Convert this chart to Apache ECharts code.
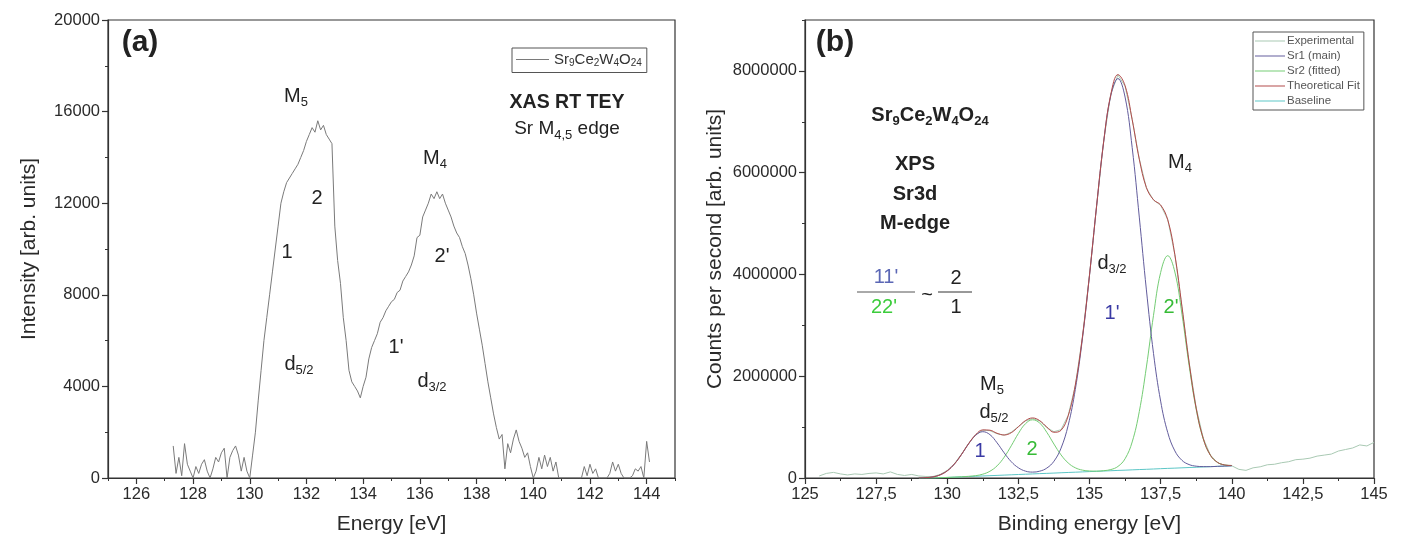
<!DOCTYPE html>
<html>
<head>
<meta charset="utf-8">
<script src="https://cdn.jsdelivr.net/npm/echarts@6/dist/echarts.min.js"></script>
<style>
html, body { margin: 0; padding: 0; background: #fff; }
#chart { width: 1407px; height: 542px; }
</style>
</head>
<body>
<div id="chart"></div>
<script>
// ---------- (a) XAS, Sr M4,5 edge ----------
const xasEnergy = [
  127.3, 127.4, 127.5, 127.6, 127.7, 127.8, 127.9, 128.0, 128.1, 128.2, 128.3, 128.4, 128.5, 128.6, 128.7, 128.8, 128.9,
  129.0, 129.1, 129.2, 129.3, 129.4, 129.5, 129.6, 129.7, 129.8, 129.9,
  130.0, 130.1, 130.2, 130.3, 130.4, 130.5, 130.6, 130.7, 130.8, 130.9,
  131.0, 131.1, 131.2, 131.3, 131.4, 131.5, 131.6, 131.7, 131.8, 131.9,
  132.0, 132.1, 132.2, 132.3, 132.4, 132.5, 132.6, 132.7, 132.8, 132.9,
  133.0, 133.1, 133.2, 133.3, 133.4, 133.5, 133.6, 133.7, 133.8, 133.9,
  134.0, 134.1, 134.2, 134.3, 134.4, 134.5, 134.6, 134.7, 134.8, 134.9,
  135.0, 135.1, 135.2, 135.3, 135.4, 135.5, 135.6, 135.7, 135.8, 135.9,
  136.0, 136.1, 136.2, 136.3, 136.4, 136.5, 136.6, 136.7, 136.8, 136.9,
  137.0, 137.1, 137.2, 137.3, 137.4, 137.5, 137.6, 137.7, 137.8, 137.9,
  138.0, 138.1, 138.2, 138.3, 138.4, 138.5, 138.6, 138.7, 138.8, 138.9,
  139.0, 139.1, 139.2, 139.3, 139.4, 139.5, 139.6, 139.7, 139.8, 139.9,
  140.0, 140.1, 140.2, 140.3, 140.4, 140.5, 140.6, 140.7, 140.8, 140.9,
  141.0, 141.1, 141.2, 141.3, 141.4, 141.5, 141.6, 141.7, 141.8, 141.9,
  142.0, 142.1, 142.2, 142.3, 142.4, 142.5, 142.6, 142.7, 142.8, 142.9,
  143.0, 143.1, 143.2, 143.3, 143.4, 143.5, 143.6, 143.7, 143.8, 143.9,
  144.0, 144.1
];
const xasIntensity = [
  1400, 200, 900, 100, 1500, 600, 300, 0, 500, 200, 600, 800, 300, 0, 400, 900, 700,
  1100, 1300, 0, 900, 1200, 1400, 1000, 300, 900, 300,
  0, 1000, 2000, 3400, 4700, 6000, 7000, 8000, 9000, 10000,
  11000, 12000, 12500, 12900, 13100, 13300, 13500, 13700, 14000, 14300,
  14700, 15000, 15300, 15100, 15600, 15200, 15400, 15000, 14800, 14600,
  11000, 9500, 8500, 7000, 6000, 4700, 4200, 4000, 3800, 3500,
  4000, 4400, 5200, 5700, 6000, 6300, 6800, 7000, 7300, 7500,
  7700, 7800, 8100, 8200, 8600, 8800, 9000, 9300, 9700, 10500,
  10600, 11400, 11700, 12000, 12400, 12200, 12500, 12200, 12400, 12000,
  11700, 11400, 11000, 10700, 10500, 10100, 9800, 9300, 8700, 8000,
  7200, 6500, 5800, 5000, 4200, 3500, 2800, 2200, 1700, 1900,
  400, 1500, 1100, 1700, 2100, 1600, 1300, 900, 1100, 500,
  0, 300, 900, 400, 1000, 500, 900, 300, 700, 0,
  0, 0, 0, 0, 0, 0, 0, 0, 500, 100,
  600, 200, 400, 0, 0, 0, 0, 200, 700, 300,
  600, 200, 0, 0, 0, 100, 400, 300, 500, 0,
  1600, 700
];
const xasName = 'Sr9Ce2W4O24';

// ---------- (b) XPS Sr3d with peak fit ----------
const expEnergy = [
  125.5, 125.75, 126.0, 126.25, 126.5, 126.75, 127.0, 127.25, 127.5, 127.75,
  128.0, 128.25, 128.5, 128.75, 129.0, 129.25, 129.5, 129.75, 130.0, 130.25,
  130.5, 130.75, 131.0, 131.25, 131.5, 131.75, 132.0, 132.25, 132.5, 132.75,
  133.0, 133.25, 133.5, 133.75, 134.0, 134.25, 134.5, 134.75, 135.0, 135.25,
  135.5, 135.75, 136.0, 136.25, 136.5, 136.75, 137.0, 137.25, 137.5, 137.75,
  138.0, 138.25, 138.5, 138.75, 139.0, 139.25, 139.5, 139.75, 140.0, 140.25,
  140.5, 140.75, 141.0, 141.25, 141.5, 141.75, 142.0, 142.25, 142.5, 142.75,
  143.0, 143.25, 143.5, 143.75, 144.0, 144.25, 144.5, 144.75, 145.0
];
const expCounts = [
  40000, 90000, 110000, 80000, 60000, 80000, 70000, 90000, 100000, 80000,
  120000, 70000, 50000, 70000, 40000, 30000, 30000, 70000, 150000, 280000,
  470000, 680000, 850000, 940000, 930000, 870000, 840000, 900000, 1010000, 1120000,
  1170000, 1120000, 990000, 910000, 950000, 1230000, 1810000, 2760000, 3990000, 5340000,
  6630000, 7550000, 7920000, 7700000, 7050000, 6270000, 5700000, 5460000, 5360000, 5080000,
  4390000, 3360000, 2280000, 1380000, 780000, 450000, 300000, 250000, 240000, 170000,
  150000, 200000, 220000, 260000, 270000, 300000, 320000, 360000, 370000, 390000,
  430000, 450000, 470000, 530000, 560000, 590000, 650000, 630000, 700000
];

const fitEnergy = [
  129.0, 129.25, 129.5, 129.75, 130.0, 130.25, 130.5, 130.75, 131.0, 131.25,
  131.5, 131.75, 132.0, 132.25, 132.5, 132.75, 133.0, 133.25, 133.5, 133.75,
  134.0, 134.25, 134.5, 134.75, 135.0, 135.25, 135.5, 135.75, 136.0, 136.25,
  136.5, 136.75, 137.0, 137.25, 137.5, 137.75, 138.0, 138.25, 138.5, 138.75,
  139.0, 139.25, 139.5, 139.75, 140.0
];
const sr1Counts = [
  2000, 7000, 21000, 62000, 141000, 274000, 461000, 670000, 840000, 910000,
  852000, 692000, 495000, 320000, 201000, 135000, 116000, 134000, 195000, 329000,
  587000, 1034000, 1736000, 2732000, 3980000, 5347000, 6613000, 7516000, 7849000, 7486000,
  6493000, 5127000, 3696000, 2448000, 1511000, 893000, 533000, 347000, 264000, 232000,
  224000, 223000, 229000, 234000, 240000
];
const sr2Counts = [
  0, 0, 0, 6000, 11000, 17000, 24000, 33000, 46000, 75000,
  133000, 238000, 408000, 633000, 875000, 1067000, 1144000, 1079000, 897000, 667000,
  454000, 296000, 201000, 155000, 138000, 135000, 144000, 166000, 227000, 378000,
  708000, 1305000, 2182000, 3197000, 4037000, 4369000, 4048000, 3220000, 2217000, 1350000,
  765000, 447000, 307000, 257000, 246000
];
const fitCounts = [
  2000, 7000, 21000, 62000, 141000, 274000, 462000, 674000, 852000, 945000,
  939000, 879000, 846000, 890000, 1007000, 1128000, 1180000, 1127000, 1001000, 899000,
  938000, 1221000, 1823000, 2767000, 3992000, 5351000, 6620000, 7539000, 7927000, 7710000,
  7041000, 6266000, 5707000, 5468000, 5365000, 5073000, 4387000, 3367000, 2275000, 1371000,
  772000, 447000, 307000, 257000, 246000
];
const baselineCounts = [
  0, 0, 0, 6000, 11000, 17000, 23000, 29000, 34000, 40000,
  46000, 51000, 57000, 63000, 69000, 74000, 80000, 86000, 91000, 97000,
  103000, 109000, 114000, 120000, 126000, 131000, 137000, 143000, 149000, 154000,
  160000, 166000, 171000, 177000, 183000, 189000, 194000, 200000, 206000, 211000,
  217000, 223000, 229000, 234000, 240000
];

const xasMajorTicks = [126, 128, 130, 132, 134, 136, 138, 140, 142, 144];
const xpsMajorTicks = [0, 2000000, 4000000, 6000000, 8000000];

const COLORS = {
  xas: '#7a7a7a',
  exp: '#a9c9b3',
  sr1: '#625c9c',
  sr2: '#74cc74',
  fit: '#b24a4a',
  base: '#5cc6c6',
  axis: '#333333',
  blue: '#3a3aa4',
  green: '#36bb36'
};
const FONT = '"Liberation Sans", Arial, sans-serif';

const pairs = (xs, ys) => xs.map((x, i) => [x, ys[i]]);

// subscripted text helpers for the chemical formula and edge labels
const formulaRich = '{n|Sr}{s|9}{n|Ce}{s|2}{n|W}{s|4}{n|O}{s|24}';

function subRich(size, weight) {
  return {
    n: { fontSize: size, fontFamily: FONT, fontWeight: weight || 'normal', fill: '#222', lineHeight: size + 6 },
    s: { fontSize: Math.round(size * 0.66), fontFamily: FONT, fontWeight: weight || 'normal', fill: '#222',
         lineHeight: Math.round(size * 0.62), verticalAlign: 'bottom' }
  };
}
function label(x, y, text, size, opt) {
  opt = opt || {};
  return {
    type: 'text', x: x, y: y, z: 50,
    style: {
      text: text,
      fontSize: size, fontFamily: FONT, fontWeight: opt.weight || 'normal',
      fill: opt.color || '#222',
      align: 'center', verticalAlign: 'middle',
      rich: opt.rich
    }
  };
}
function hline(x1, x2, y, color) {
  return { type: 'line', z: 50, shape: { x1: x1, y1: y, x2: x2, y2: y }, style: { stroke: color || '#444', lineWidth: 1 } };
}

const axisLineStyle = { show: true, lineStyle: { color: COLORS.axis, width: 1.2 } };
const tickLabel = { color: '#2a2a2a', fontSize: 16.5, fontFamily: FONT, margin: 8 };
const nameStyle = { color: '#2a2a2a', fontSize: 21, fontFamily: FONT };
const ANN = 20;

const chart = echarts.init(document.getElementById('chart'));

chart.setOption({
  animation: false,
  backgroundColor: '#ffffff',
  grid: [
    { left: 108, top: 20, width: 567, height: 458, show: true, borderColor: COLORS.axis, borderWidth: 1.2, backgroundColor: 'transparent' },
    { left: 805, top: 20, width: 569, height: 458, show: true, borderColor: COLORS.axis, borderWidth: 1.2, backgroundColor: 'transparent' }
  ],
  xAxis: [
    {
      gridIndex: 0, type: 'value', min: 125, max: 145, interval: 1,
      axisLine: axisLineStyle,
      axisTick: { show: true, length: 3, lineStyle: { color: COLORS.axis } },
      axisLabel: Object.assign({}, tickLabel, { formatter: v => (v % 2 === 0 ? String(v) : '') }),
      splitLine: { show: false },
      name: 'Energy [eV]', nameLocation: 'middle', nameGap: 36, nameTextStyle: nameStyle
    },
    {
      gridIndex: 0, type: 'value', min: 125, max: 145, position: 'bottom',
      axisLine: { show: false },
      axisTick: { show: true, length: 6, customValues: xasMajorTicks, lineStyle: { color: COLORS.axis, width: 1.2 } },
      axisLabel: { show: false },
      splitLine: { show: false }
    },
    {
      gridIndex: 1, type: 'value', min: 125, max: 145, interval: 2.5,
      axisLine: axisLineStyle,
      axisTick: { show: true, length: 6, lineStyle: { color: COLORS.axis, width: 1.2 } },
      minorTick: { show: true, splitNumber: 2, length: 3, lineStyle: { color: COLORS.axis } },
      axisLabel: Object.assign({}, tickLabel, { formatter: v => String(v).replace('.', ',') }),
      splitLine: { show: false },
      name: 'Binding energy [eV]', nameLocation: 'middle', nameGap: 36, nameTextStyle: nameStyle
    }
  ],
  yAxis: [
    {
      gridIndex: 0, type: 'value', min: 0, max: 20000, interval: 4000,
      axisLine: axisLineStyle,
      axisTick: { show: true, length: 6, lineStyle: { color: COLORS.axis, width: 1.2 } },
      minorTick: { show: true, splitNumber: 2, length: 3, lineStyle: { color: COLORS.axis } },
      axisLabel: Object.assign({}, tickLabel, { formatter: v => String(v) }),
      splitLine: { show: false },
      name: 'Intensity [arb. units]', nameLocation: 'middle', nameGap: 68, nameTextStyle: nameStyle
    },
    {
      gridIndex: 1, type: 'value', min: 0, max: 9000000, interval: 1000000,
      axisLine: axisLineStyle,
      axisTick: { show: true, length: 3, lineStyle: { color: COLORS.axis } },
      axisLabel: Object.assign({}, tickLabel, { formatter: v => (v % 2000000 === 0 ? String(v) : '') }),
      splitLine: { show: false },
      name: 'Counts per second [arb. units]', nameLocation: 'middle', nameGap: 79, nameTextStyle: nameStyle
    },
    {
      gridIndex: 1, type: 'value', min: 0, max: 9000000, position: 'left',
      axisLine: { show: false },
      axisTick: { show: true, length: 6, customValues: xpsMajorTicks, lineStyle: { color: COLORS.axis, width: 1.2 } },
      axisLabel: { show: false },
      splitLine: { show: false }
    }
  ],
  legend: [
    {
      data: [xasName],
      left: 512, top: 48, orient: 'vertical',
      padding: [4, 5, 4, 4],
      borderColor: '#555', borderWidth: 1,
      icon: 'rect', itemWidth: 33, itemHeight: 1,
      textStyle: {
        fontSize: 15, fontFamily: FONT, color: '#333',
        rich: {
          n: { fontSize: 15, fontFamily: FONT, color: '#333', lineHeight: 18 },
          s: { fontSize: 10, fontFamily: FONT, color: '#333', lineHeight: 9, verticalAlign: 'bottom' }
        }
      },
      formatter: () => formulaRich,
      selectedMode: false
    },
    {
      data: ['Experimental', 'Sr1 (main)', 'Sr2 (fitted)', 'Theoretical Fit', 'Baseline'],
      left: 1253, top: 32, orient: 'vertical',
      padding: [2, 4, 2, 2], itemGap: 1,
      borderColor: '#555', borderWidth: 1,
      icon: 'rect', itemWidth: 30, itemHeight: 1,
      textStyle: { fontSize: 11.5, fontFamily: FONT, color: '#555', lineHeight: 14, padding: [0, 0, 0, -3] },
      selectedMode: false
    }
  ],
  series: [
    {
      name: xasName, type: 'line', xAxisIndex: 0, yAxisIndex: 0,
      data: pairs(xasEnergy, xasIntensity),
      symbol: 'none', lineStyle: { color: COLORS.xas, width: 1 }, itemStyle: { color: COLORS.xas }
    },
    {
      name: 'Experimental', type: 'line', xAxisIndex: 2, yAxisIndex: 1,
      data: pairs(expEnergy, expCounts),
      symbol: 'none', lineStyle: { color: COLORS.exp, width: 1 }, itemStyle: { color: COLORS.exp }
    },
    {
      name: 'Baseline', type: 'line', xAxisIndex: 2, yAxisIndex: 1,
      data: pairs(fitEnergy, baselineCounts),
      symbol: 'none', lineStyle: { color: COLORS.base, width: 1 }, itemStyle: { color: COLORS.base }
    },
    {
      name: 'Sr2 (fitted)', type: 'line', xAxisIndex: 2, yAxisIndex: 1,
      data: pairs(fitEnergy, sr2Counts), smooth: 0.4,
      symbol: 'none', lineStyle: { color: COLORS.sr2, width: 1 }, itemStyle: { color: COLORS.sr2 }
    },
    {
      name: 'Sr1 (main)', type: 'line', xAxisIndex: 2, yAxisIndex: 1,
      data: pairs(fitEnergy, sr1Counts), smooth: 0.4,
      symbol: 'none', lineStyle: { color: COLORS.sr1, width: 1 }, itemStyle: { color: COLORS.sr1 }
    },
    {
      name: 'Theoretical Fit', type: 'line', xAxisIndex: 2, yAxisIndex: 1,
      data: pairs(fitEnergy, fitCounts), smooth: 0.4,
      symbol: 'none', lineStyle: { color: COLORS.fit, width: 1 }, itemStyle: { color: COLORS.fit }
    }
  ],
  graphic: [
    // panel (a)
    label(140, 43, '(a)', 30, { weight: 'bold' }),
    label(567, 103, 'XAS RT TEY', 19.5, { weight: 'bold' }),
    label(567, 129, '{n|Sr M}{s|4,5}{n| edge}', 19, { rich: subRich(19) }),
    label(296, 96, '{n|M}{s|5}', ANN, { rich: subRich(ANN) }),
    label(317, 198, '2', ANN),
    label(287, 252, '1', ANN),
    label(299, 364, '{n|d}{s|5/2}', ANN, { rich: subRich(ANN) }),
    label(435, 158, '{n|M}{s|4}', ANN, { rich: subRich(ANN) }),
    label(442, 256, "2'", ANN),
    label(396, 347, "1'", ANN),
    label(432, 381, '{n|d}{s|3/2}', ANN, { rich: subRich(ANN) }),
    // panel (b)
    label(835, 43, '(b)', 30, { weight: 'bold' }),
    label(930, 115, formulaRich, 20, { rich: subRich(20, 'bold') }),
    label(915, 164, 'XPS', 20, { weight: 'bold' }),
    label(915, 194, 'Sr3d', 20, { weight: 'bold' }),
    label(915, 223, 'M-edge', 20, { weight: 'bold' }),
    label(886, 277, "11'", 20, { color: '#5b67b5' }),
    hline(857, 915, 292, '#555'),
    label(884, 307, "22'", 20, { color: '#3ccc3c' }),
    label(927, 295, '~', 20),
    label(956, 278, '2', 20),
    hline(938, 972, 292, '#333'),
    label(956, 307, '1', 20),
    label(992, 384, '{n|M}{s|5}', ANN, { rich: subRich(ANN) }),
    label(994, 412, '{n|d}{s|5/2}', ANN, { rich: subRich(ANN) }),
    label(980, 451, '1', ANN, { color: COLORS.blue }),
    label(1032, 449, '2', ANN, { color: COLORS.green }),
    label(1112, 263, '{n|d}{s|3/2}', ANN, { rich: subRich(ANN) }),
    label(1112, 313, "1'", ANN, { color: COLORS.blue }),
    label(1171, 307, "2'", ANN, { color: COLORS.green }),
    label(1180, 162, '{n|M}{s|4}', ANN, { rich: subRich(ANN) })
  ]
});
</script>
</body>
</html>
